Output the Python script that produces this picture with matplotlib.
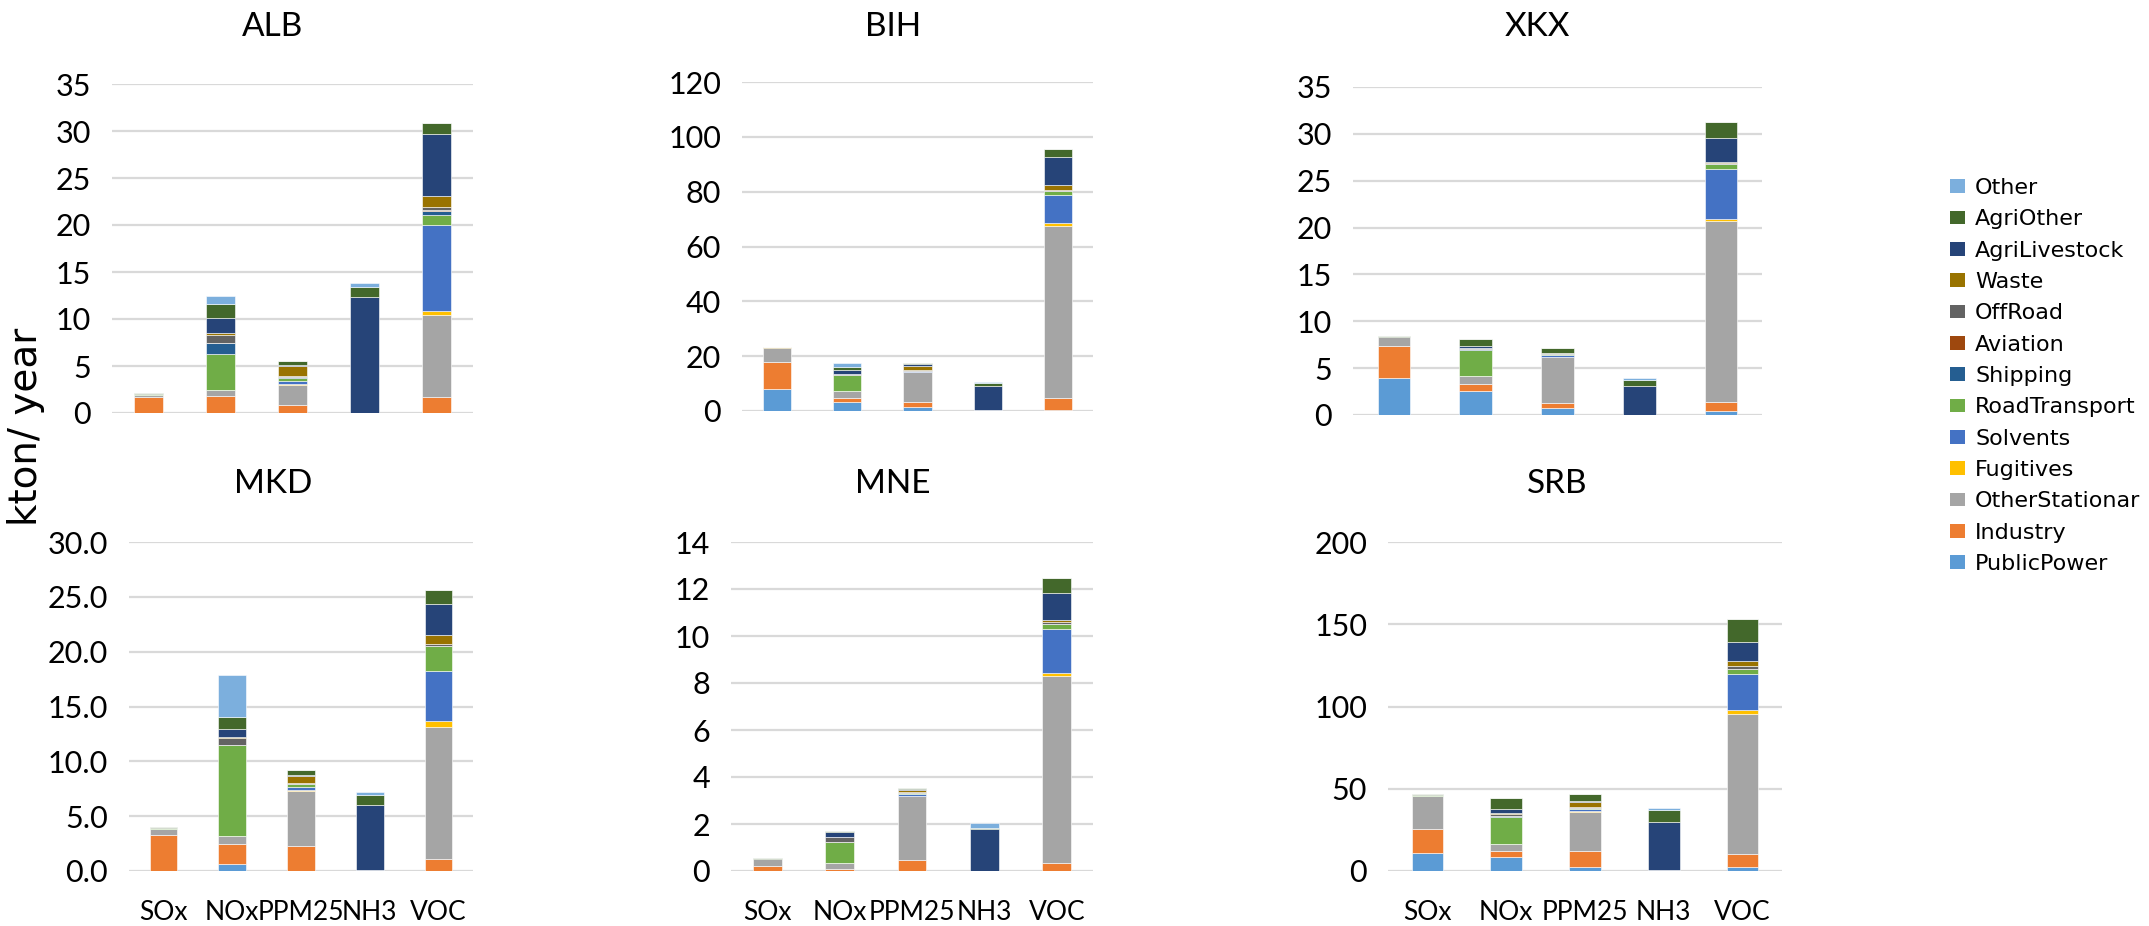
import numpy as np
import matplotlib
matplotlib.use('Agg')
import matplotlib.pyplot as plt
from matplotlib.patches import Patch

pollutants = ['SOx', 'NOx', 'PPM25', 'NH3', 'VOC']
sectors = ['PublicPower', 'Industry', 'OtherStationar', 'Fugitives', 'Solvents',
           'RoadTransport', 'Shipping', 'Aviation', 'OffRoad', 'Waste',
           'AgriLivestock', 'AgriOther', 'Other']
colors = ['#5B9BD5', '#ED7D31', '#A5A5A5', '#FFC000', '#4472C4', '#70AD47',
          '#255E91', '#9E480E', '#636363', '#997300', '#264478', '#43682B',
          '#7CAFDD']

# kton/year, one row per sector (same order as sectors), columns = pollutants
alb = [[0, 0, 0, 0, 0.05],
       [1.7, 1.8, 0.9, 0, 1.65],
       [0.25, 0.6, 2.1, 0, 8.7],
       [0, 0, 0.1, 0, 0.5],
       [0, 0, 0.3, 0, 9.15],
       [0.05, 3.9, 0.3, 0.05, 1.05],
       [0, 1.1, 0.15, 0, 0.4],
       [0, 0.05, 0, 0, 0.05],
       [0.05, 0.9, 0.1, 0, 0.4],
       [0, 0.15, 1.05, 0, 1.15],
       [0, 1.65, 0.15, 12.3, 6.55],
       [0.05, 1.45, 0.4, 1.05, 1.2],
       [0, 0.9, 0, 0.45, 0]]

bih = [[7.9, 3.3, 1.45, 0, 0.5],
       [10.0, 1.45, 1.8, 0, 4.4],
       [5.1, 2.4, 11.0, 0, 62.5],
       [0, 0, 0, 0, 1.0],
       [0, 0, 0.2, 0, 10.3],
       [0.1, 5.85, 0.3, 0.2, 1.5],
       [0, 0.2, 0, 0, 0],
       [0, 0, 0, 0, 0],
       [0, 0.4, 0.1, 0, 0.3],
       [0.1, 0, 1.7, 0, 2.0],
       [0, 1.2, 0.5, 9.1, 10.0],
       [0.1, 1.2, 0.6, 0.8, 3.2],
       [0, 1.6, 0, 0.6, 0]]

xkx = [[4.0, 2.55, 0.8, 0, 0.45],
       [3.4, 0.8, 0.45, 0, 0.95],
       [0.9, 0.8, 4.95, 0, 19.25],
       [0, 0, 0, 0, 0.3],
       [0, 0, 0.2, 0, 5.35],
       [0.05, 2.8, 0.15, 0.05, 0.45],
       [0, 0.05, 0, 0, 0],
       [0, 0, 0, 0, 0],
       [0, 0.1, 0.05, 0, 0.15],
       [0, 0, 0, 0, 0.15],
       [0, 0.3, 0, 3.0, 2.5],
       [0.1, 0.7, 0.6, 0.7, 1.7],
       [0, 0, 0, 0.25, 0]]

mkd = [[0, 0.6, 0, 0, 0],
       [3.25, 1.9, 2.25, 0, 1.05],
       [0.6, 0.65, 5.05, 0, 12.1],
       [0, 0, 0.1, 0, 0.55],
       [0, 0, 0.25, 0, 4.5],
       [0.05, 8.3, 0.25, 0.1, 2.35],
       [0, 0, 0, 0, 0],
       [0, 0.05, 0, 0, 0],
       [0, 0.6, 0.1, 0, 0.15],
       [0, 0.1, 0.65, 0, 0.8],
       [0, 0.75, 0.1, 5.9, 2.85],
       [0.07, 1.1, 0.45, 0.9, 1.25],
       [0, 3.8, 0, 0.3, 0]]

mne = [[0, 0, 0, 0, 0],
       [0.2, 0.08, 0.48, 0, 0.33],
       [0.3, 0.27, 2.7, 0, 7.97],
       [0, 0, 0.02, 0, 0.13],
       [0, 0, 0.08, 0, 1.85],
       [0.02, 0.88, 0.04, 0.02, 0.22],
       [0, 0, 0, 0, 0],
       [0, 0, 0, 0, 0],
       [0, 0.2, 0.03, 0, 0.08],
       [0, 0.01, 0.1, 0, 0.1],
       [0, 0.23, 0.03, 1.75, 1.15],
       [0.03, 0.05, 0.05, 0.07, 0.62],
       [0, 0, 0, 0.2, 0]]

srb = [[11.0, 8.5, 2.45, 0, 2.2],
       [14.4, 3.45, 9.55, 0, 7.9],
       [20.3, 4.7, 24.0, 0, 85.3],
       [0, 0, 0.5, 0, 2.4],
       [0, 0, 1.0, 0, 21.9],
       [0.3, 16.2, 1.0, 0.4, 3.05],
       [0, 0.5, 0, 0, 0],
       [0, 0.2, 0, 0, 0],
       [0, 1.3, 0.5, 0, 1.8],
       [0.4, 0.2, 3.0, 0, 3.25],
       [0, 2.6, 0.6, 29.4, 11.4],
       [0.3, 6.9, 4.5, 7.5, 14.0],
       [0, 0, 0, 1.2, 0]]

W, H = 2149, 926
fig = plt.figure(figsize=(W / 100, H / 100), dpi=100)
tick_font = 'Lato'

# name, data, (left, right, top, bottom) in px, ymax, ystep, fmt, title pos px
panels = [
    ('ALB', alb, (112, 473, 84, 413), 35, 5, '%d', 273, 27),
    ('BIH', bih, (742, 1093, 82, 411), 120, 20, '%d', 893, 27),
    ('XKX', xkx, (1353, 1762, 87, 415), 35, 5, '%d', 1537, 27),
    ('MKD', mkd, (129, 473, 542, 871), 30, 5, '%.1f', 273, 484),
    ('MNE', mne, (731, 1093, 542, 871), 14, 2, '%d', 893, 484),
    ('SRB', srb, (1388, 1782, 542, 871), 200, 50, '%d', 1557, 484),
]

x = np.arange(len(pollutants))
for i, (name, data, box, ymax, ystep, fmt, tx, ty) in enumerate(panels):
    l, r, t, b = box
    ax = fig.add_axes([l / W, (H - b) / H, (r - l) / W, (b - t) / H])
    data = np.array(data)
    bottom = np.zeros(len(pollutants))
    for k in range(len(sectors)):
        ax.bar(x, data[k], 0.4, bottom=bottom, color=colors[k],
               edgecolor='white', linewidth=0.4, zorder=3)
        bottom += data[k]
    ax.set_xlim(-0.5, 4.5)
    ax.set_ylim(0, ymax)
    ticks = np.arange(0, ymax + ystep / 2, ystep)
    ax.set_yticks(ticks)
    ax.set_yticklabels([fmt % v for v in ticks], fontsize=22, family=tick_font)
    ax.set_xticks(x)
    if i >= 3:
        ax.set_xticklabels(pollutants, fontsize=19, family=tick_font)
    else:
        ax.set_xticklabels([])
    ax.tick_params(axis='y', length=0, pad=15)
    ax.tick_params(axis='x', length=0, pad=21)
    for s in ax.spines.values():
        s.set_visible(False)
    ax.grid(axis='y', color='#D9D9D9', linewidth=1.6, zorder=0)
    fig.text(tx / W, 1 - ty / H, name, ha='center', va='center',
             fontsize=24, family=tick_font)

fig.text(26 / W, 1 - 427 / H, 'kton/ year', rotation=90, ha='center',
         va='center', fontsize=28, family='DejaVu Sans')

handles = [Patch(facecolor=c, label=s) for s, c in zip(sectors, colors)][::-1]
fig.legend(handles=handles, loc='upper left',
           bbox_to_anchor=(1950 / W, 1 - 178 / H),
           frameon=False, prop={'family': 'DejaVu Sans', 'size': 16},
           handlelength=0.68, handleheight=0.55, handletextpad=0.45,
           labelspacing=0.51, borderaxespad=0, borderpad=0)

fig.savefig('out.png', dpi=100)
